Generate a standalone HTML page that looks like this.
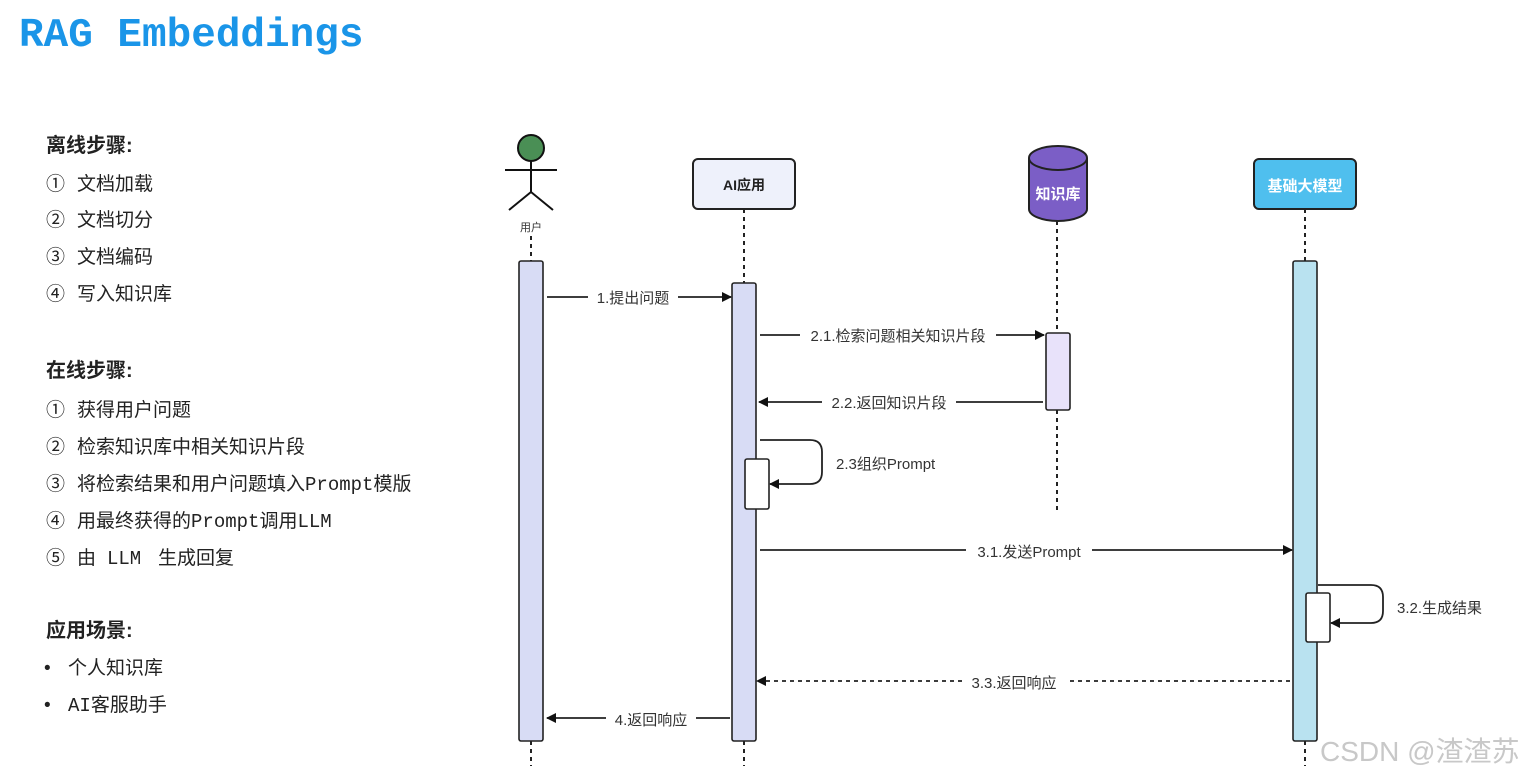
<!DOCTYPE html>
<html><head><meta charset="utf-8"><style>
body{margin:0;background:#fff;width:1525px;height:778px;overflow:hidden;}
svg{display:block}
.t{font-family:"Liberation Sans","Noto Sans CJK SC",sans-serif;}
</style></head><body>
<svg width="1525" height="778" viewBox="0 0 1525 778" xmlns="http://www.w3.org/2000/svg">
<defs>
<marker id="ah" markerWidth="10" markerHeight="10" refX="9" refY="5" orient="auto" markerUnits="userSpaceOnUse">
<path d="M0,0 L10,5 L0,10 z" fill="#111"/></marker>
</defs>
<text x="19" y="46" font-family="Liberation Mono,monospace" font-weight="bold" font-size="41" fill="#1a95e8">RAG Embeddings</text>

<g font-size="19" fill="#222" font-family="Liberation Sans,Noto Sans CJK SC,sans-serif">
<text x="46" y="152" font-weight="bold" font-size="20">离线步骤:</text>
<text x="46" y="190">①</text><text x="77" y="190">文档加载</text>
<text x="46" y="226">②</text><text x="77" y="226">文档切分</text>
<text x="46" y="263">③</text><text x="77" y="263">文档编码</text>
<text x="46" y="300">④</text><text x="77" y="300">写入知识库</text>
<text x="46" y="377" font-weight="bold" font-size="20">在线步骤:</text>
<text x="46" y="416">①</text><text x="77" y="416">获得用户问题</text>
<text x="46" y="453">②</text><text x="77" y="453">检索知识库中相关知识片段</text>
<text x="46" y="490">③</text><text x="77" y="490">将检索结果和用户问题填入<tspan font-family="Liberation Mono,monospace">Prompt</tspan>模版</text>
<text x="46" y="527">④</text><text x="77" y="527">用最终获得的<tspan font-family="Liberation Mono,monospace">Prompt</tspan>调用<tspan font-family="Liberation Mono,monospace">LLM</tspan></text>
<text x="46" y="564">⑤</text><text x="77" y="564">由</text><text x="107" y="564" font-family="Liberation Mono,monospace">LLM</text><text x="158" y="564">生成回复</text>
<text x="46" y="637" font-weight="bold" font-size="20">应用场景:</text>
<text x="44" y="674">•</text><text x="68" y="674">个人知识库</text>
<text x="44" y="711">•</text><text x="68" y="711"><tspan font-family="Liberation Mono,monospace">AI</tspan>客服助手</text>
</g>

<g stroke="#222" stroke-width="2" stroke-dasharray="4,4">
<line x1="531" y1="236" x2="531" y2="261"/><line x1="531" y1="741" x2="531" y2="766"/>
<line x1="744" y1="209" x2="744" y2="283"/><line x1="744" y1="741" x2="744" y2="766"/>
<line x1="1057" y1="221" x2="1057" y2="333"/><line x1="1057" y1="410" x2="1057" y2="510"/>
<line x1="1305" y1="209" x2="1305" y2="261"/><line x1="1305" y1="741" x2="1305" y2="766"/>
</g>

<circle cx="531" cy="148" r="13" fill="#4a8f55" stroke="#111" stroke-width="2"/>
<g stroke="#111" stroke-width="2" fill="none">
<line x1="531" y1="161" x2="531" y2="192"/><line x1="505" y1="170" x2="557" y2="170"/>
<polyline points="509,210 531,192 553,210"/></g>
<text x="531" y="231" text-anchor="middle" font-size="11" class="t" fill="#333">用户</text>

<rect x="693" y="159" width="102" height="50" rx="5" fill="#eef1fb" stroke="#222" stroke-width="2"/>
<text x="744" y="190" text-anchor="middle" font-size="14" font-weight="bold" class="t" fill="#222">AI应用</text>

<path d="M1029,158 L1029,209 A29,12 0 0 0 1087,209 L1087,158" fill="#7b5ec6" stroke="#222" stroke-width="2"/>
<ellipse cx="1058" cy="158" rx="29" ry="12" fill="#7b5ec6" stroke="#222" stroke-width="2"/>
<text x="1058" y="199" text-anchor="middle" font-size="15" font-weight="bold" class="t" fill="#fff">知识库</text>

<rect x="1254" y="159" width="102" height="50" rx="5" fill="#4fbfee" stroke="#222" stroke-width="2"/>
<text x="1305" y="191" text-anchor="middle" font-size="15" font-weight="bold" class="t" fill="#fff">基础大模型</text>

<g stroke="#222" stroke-width="1.6">
<rect x="519" y="261" width="24" height="480" rx="2" fill="#d8dcf5"/>
<rect x="732" y="283" width="24" height="458" rx="2" fill="#d8dcf5"/>
<rect x="1046" y="333" width="24" height="77" rx="2" fill="#e8e2fa"/>
<rect x="1293" y="261" width="24" height="480" rx="2" fill="#b9e2f0"/>
<rect x="745" y="459" width="24" height="50" rx="2" fill="#fff"/>
<rect x="1306" y="593" width="24" height="49" rx="2" fill="#fff"/>
</g>

<g stroke="#222" stroke-width="1.8" fill="none">
<line x1="547" y1="297" x2="731" y2="297" marker-end="url(#ah)"/>
<line x1="760" y1="335" x2="1044" y2="335" marker-end="url(#ah)"/>
<line x1="1043" y1="402" x2="759" y2="402" marker-end="url(#ah)"/>
<path d="M760,440 H810 Q822,440 822,452 V472 Q822,484 810,484 H770" marker-end="url(#ah)"/>
<line x1="760" y1="550" x2="1292" y2="550" marker-end="url(#ah)"/>
<path d="M1318,585 H1371 Q1383,585 1383,597 V611 Q1383,623 1371,623 H1331" marker-end="url(#ah)"/>
<line x1="1290" y1="681" x2="757" y2="681" stroke-dasharray="4,4" marker-end="url(#ah)"/>
<line x1="730" y1="718" x2="547" y2="718" marker-end="url(#ah)"/>
</g>
<g class="t" font-size="15" fill="#333" text-anchor="middle">
<rect x="588" y="287" width="90" height="20" fill="#fff"/><text x="633" y="303">1.提出问题</text>
<rect x="800" y="325" width="196" height="20" fill="#fff"/><text x="898" y="341">2.1.检索问题相关知识片段</text>
<rect x="822" y="392" width="134" height="20" fill="#fff"/><text x="889" y="408">2.2.返回知识片段</text>
<text x="836" y="469" text-anchor="start">2.3组织Prompt</text>
<rect x="966" y="540" width="126" height="20" fill="#fff"/><text x="1029" y="557">3.1.发送Prompt</text>
<text x="1397" y="613" text-anchor="start">3.2.生成结果</text>
<rect x="962" y="671" width="104" height="20" fill="#fff"/><text x="1014" y="688">3.3.返回响应</text>
<rect x="606" y="708" width="90" height="20" fill="#fff"/><text x="651" y="725">4.返回响应</text>
</g>
<text x="1320" y="761" font-size="28" class="t" fill="#c8c8c8">CSDN @渣渣苏</text>
</svg>
</body></html>
